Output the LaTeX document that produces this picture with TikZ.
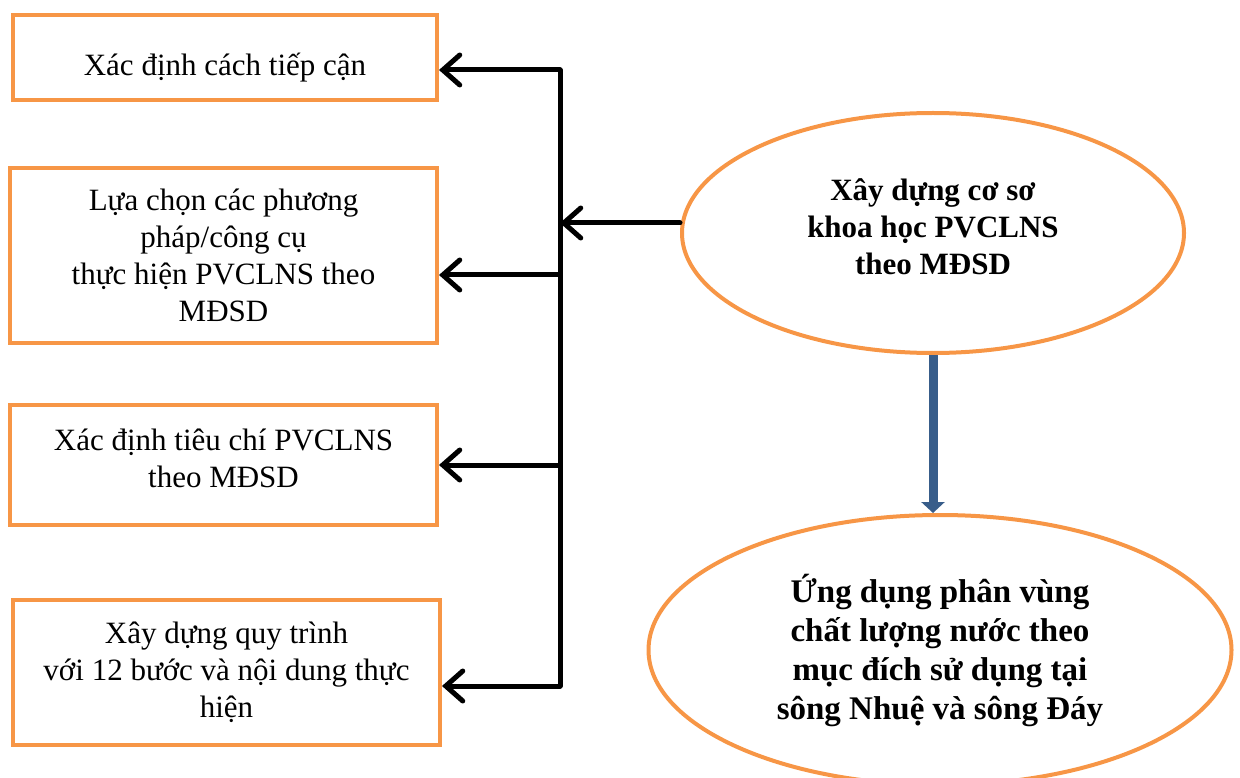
\documentclass[tikz,border=0pt]{standalone}
\usepackage{fontspec}
\setmainfont{Liberation Serif}
\usetikzlibrary{arrows.meta,shapes.geometric}
\definecolor{boxorange}{HTML}{F79646}
\definecolor{arrowblue}{HTML}{385D8A}
\tikzstyle{stepbox}=[rectangle, draw=boxorange, line width=4pt, align=center, font=\fontsize{31}{37}\selectfont, inner sep=0pt]
\tikzstyle{goalnode}=[ellipse, draw=boxorange, line width=4pt, align=center, font=\fontsize{31}{37}\selectfont\bfseries, inner sep=0pt]
\tikzstyle{edge}=[line width=5pt, line cap=round, line join=round]
\tikzstyle{dedge}=[edge,-{Straight Barb[length=17pt,width=30pt,line cap=round]}]
\tikzstyle{bedge}=[line width=9pt, draw=arrowblue, -{Triangle[length=11pt,width=23pt]}]

\begin{document}
\begin{tikzpicture}[x=1pt,y=-1pt]
				\useasboundingbox (0,0) rectangle (1240,778);
				\node[stepbox, minimum width=424pt, minimum height=85pt, text height=43pt, text depth=7pt] (s1) at (225,57.5) {Xác định cách tiếp cận};
				\node[stepbox, minimum width=427pt, minimum height=175pt] (s2) at (223.5,255.5) {Lựa chọn các phương\\ pháp/công cụ\\ thực hiện PVCLNS theo\\ MĐSD};
				\node[stepbox, minimum width=427pt, minimum height=120pt, text depth=14pt] (s3) at (223.5,465) {Xác định tiêu chí PVCLNS\\ theo MĐSD};
				\node[stepbox, minimum width=427pt, minimum height=145pt] (s4) at (226.5,672.5) {Xây dựng quy trình\\ với 12 bước và nội dung thực\\ hiện};
				
				\node[goalnode, minimum width=502pt, minimum height=240pt, text depth=13pt] (goal) at (933,233) {Xây dựng cơ sơ\\ khoa học PVCLNS\\ theo MĐSD};
				\node[goalnode, minimum width=583pt, minimum height=270pt, font=\fontsize{33}{39}\selectfont\bfseries] (app) at (940,650) {Ứng dụng phân vùng\\ chất lượng nước theo\\ mục đích sử dụng tại\\ sông Nhuệ và sông Đáy};
				
				\coordinate (b1) at (560,70);
				\coordinate (b2) at (560,275);
				\coordinate (b3) at (560,465);
				\coordinate (b4) at (560,686);
				\coordinate (hub) at (560,223);
				
				\draw[edge] (b1)--(b4);
				\draw[dedge] (b1)--(b1 -| s1.east);
				\draw[dedge] (b2)--(b2 -| s2.east);
				\draw[dedge] (b3)--(b3 -| s3.east);
				\draw[dedge] (b4)--(b4 -| s4.east);
				\draw[dedge] (goal.west |- hub)--(hub);
				\draw[bedge] (goal.south)--(goal.south |- app.north);
			\end{tikzpicture}
\end{document}
